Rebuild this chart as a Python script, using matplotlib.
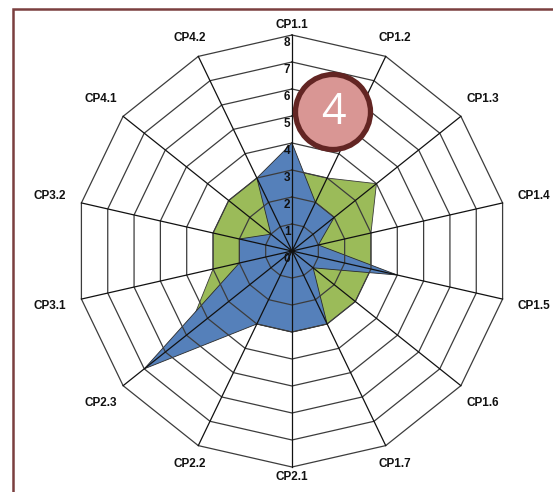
import numpy as np
import matplotlib
matplotlib.use("Agg")
import matplotlib.pyplot as plt
from matplotlib.patches import Circle, Rectangle

categories = ["CP1.1", "CP1.2", "CP1.3", "CP1.4", "CP1.5", "CP1.6", "CP1.7",
              "CP2.1", "CP2.2", "CP2.3", "CP3.1", "CP3.2", "CP4.1", "CP4.2"]
series_green = [3, 3, 4, 3, 3, 3, 3, 3, 3, 5, 3, 3, 3, 3]
series_blue = [4, 2, 2, 1, 4, 1, 3, 3, 3, 7, 2, 2, 1, 3]
radial_ticks = [0, 1, 2, 3, 4, 5, 6, 7, 8]
badge_text = "4"

W, H, DPI = 553, 492, 100
fig = plt.figure(figsize=(W / DPI, H / DPI), dpi=DPI)
fig.patch.set_facecolor("white")

cx, cy, R = 292, 251, 216  # pixel geometry of the plot area
ax = fig.add_axes([(cx - R) / W, (H - cy - R) / H, 2 * R / W, 2 * R / H],
                  projection="polar")
ax.set_theta_zero_location("N")
ax.set_theta_direction(-1)
ax.set_ylim(0, 8)
ax.grid(False)
ax.set_xticks([])
ax.set_yticks([])
ax.spines["polar"].set_visible(False)
ax.patch.set_alpha(0)

n = len(categories)
theta = np.arange(n) * 2 * np.pi / n
theta_c = np.append(theta, theta[0])

g = np.append(series_green, series_green[0])
b = np.append(series_blue, series_blue[0])
ax.fill(theta_c, g, facecolor="#9BBB59", edgecolor="#3a3a3a", lw=0.6, zorder=2)
ax.fill(theta_c, b, facecolor="#5580BA", edgecolor="#2a2a2a", lw=0.6, zorder=3)

# polygon grid rings
for r in radial_ticks[1:]:
    ax.plot(theta_c, [r] * (n + 1), color="#3c3c3c", lw=0.9, zorder=4, clip_on=False)
# spokes
for t in theta:
    ax.plot([t, t], [0, 8], color="#111111", lw=0.9, zorder=4, clip_on=False)

# radial tick labels
for r in radial_ticks:
    ax.annotate(str(r), xy=(0, r), xytext=(-1.5, -8), textcoords="offset pixels",
                ha="right", va="center", fontsize=8.5, fontweight="bold",
                family="Liberation Sans", color="#111111", zorder=6,
                annotation_clip=False)

# category labels
unit = R / 8.0
for t, lab in zip(theta, categories):
    rp = 226 + 23 * abs(np.sin(t))
    ax.text(t, rp / unit, lab, ha="center", va="center", fontsize=8.5,
            fontweight="bold", family="Liberation Sans", color="#111111",
            clip_on=False, zorder=6)

# frame border
fig.add_artist(Rectangle((12.5 / DPI, -0.2), 6.0, (H - 9) / DPI + 0.2,
                         transform=fig.dpi_scale_trans, fill=False,
                         edgecolor="#7b3f3f", lw=1.8, zorder=1))

# badge annotation
bx, by = 333, 112
fig.add_artist(Circle((bx / DPI, (H - by) / DPI), 37.5 / DPI,
                      transform=fig.dpi_scale_trans, facecolor="#D99694",
                      edgecolor="#632523", lw=3.8, zorder=10))
fig.text(bx / W, 1 - (by + 1) / H, badge_text, ha="center", va="center",
         fontsize=31, color="white", family="Open Sans", zorder=11)

fig.savefig("out.png", dpi=DPI)
